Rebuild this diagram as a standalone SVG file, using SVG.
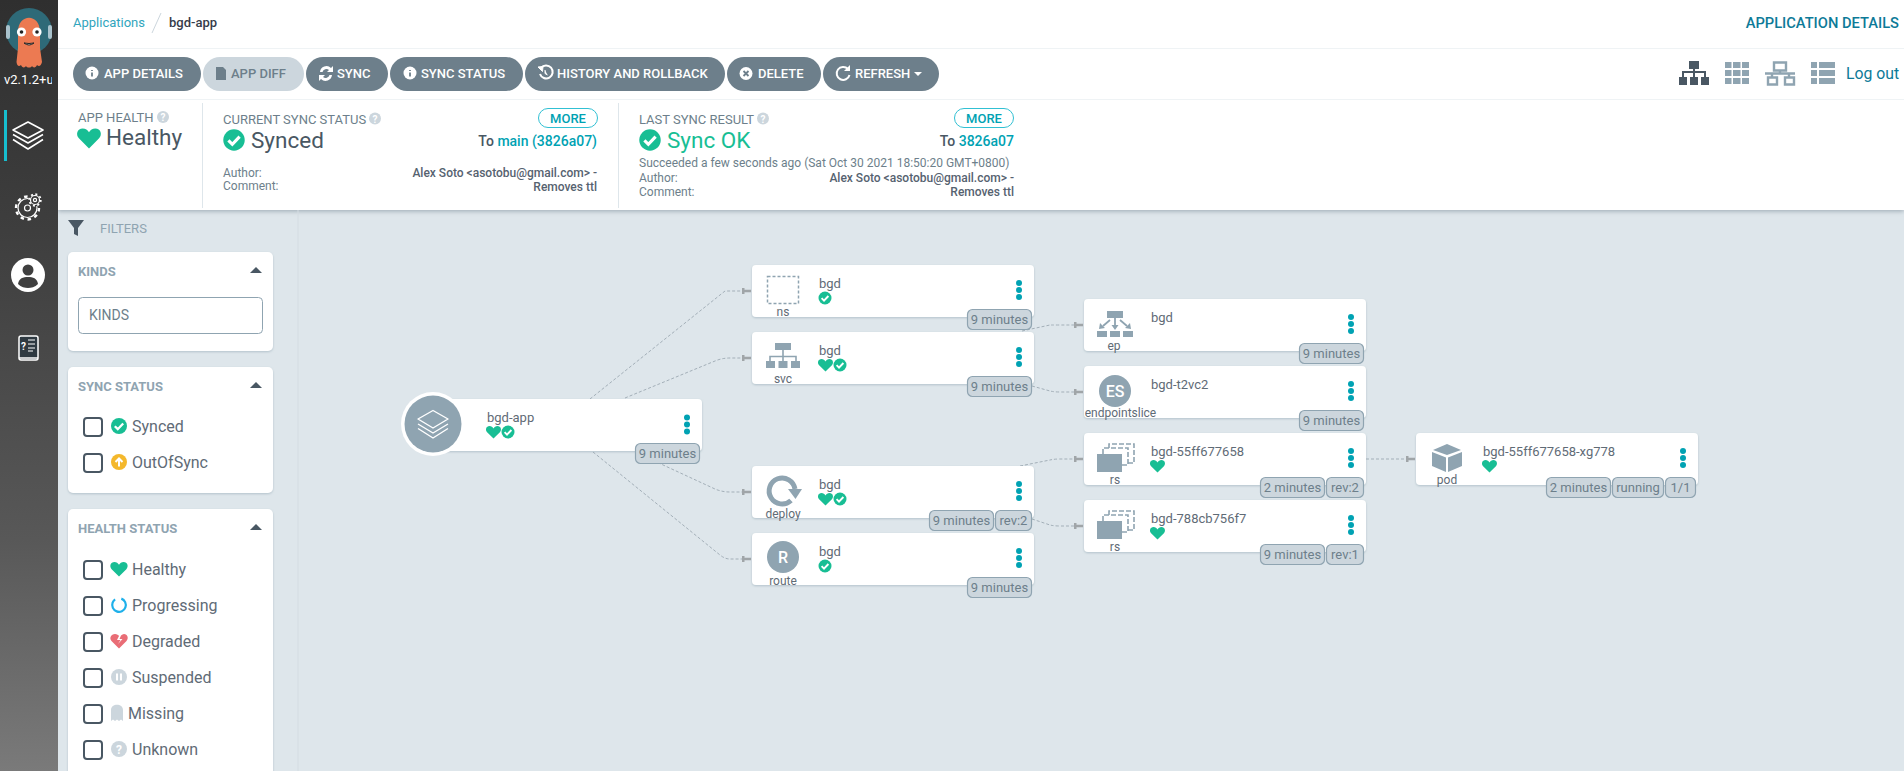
<svg xmlns="http://www.w3.org/2000/svg" xmlns:xlink="http://www.w3.org/1999/xlink" width="1904" height="771" viewBox="0 0 1904 771">
<style>
text{font-family:Roboto,"Liberation Sans",sans-serif;}
.btn{fill:#6d7f8b}.btnt{fill:#fff;font-size:13px;font-weight:500}
.card{fill:#fff;filter:url(#sh)}
.name{font-size:13px;fill:#5f6b76}
.kind{font-size:12px;fill:#5f6b76;text-anchor:middle}
.bd{fill:#ccd6dd;stroke:#8fa4b1;stroke-width:1.2}
.bt{font-size:13px;fill:#6d7f8b;text-anchor:middle}
.dot{fill:#00a2b3}
.ico{fill:#8fa4b1}
.edge{fill:none;stroke:#a3afb8;stroke-width:1;stroke-dasharray:3 2;marker-end:url(#tack)}
.lab{font-size:13px;fill:#6d7f8b}
.val{font-size:22.5px;fill:#495763}
.small{font-size:12px;fill:#6d7f8b}
.sv{font-size:12px;fill:#566270;font-weight:500;text-anchor:end}
.to{font-size:14px;font-weight:500;fill:#495763;text-anchor:end}
.link{fill:#00a2b3}
.more{fill:#fff;stroke:#31c0d3;stroke-width:1}
.moret{font-size:13px;font-weight:500;fill:#00a2b3;text-anchor:middle}
.panel{fill:#fff;filter:url(#sh)}
.pt{font-size:13px;font-weight:700;fill:#8fa4b1}
.cb{fill:#fff;stroke:#495763;stroke-width:2}
.fl{font-size:16px;fill:#5f6b76}
.nav{fill:none;stroke:#fff;stroke-width:1.6;stroke-linejoin:round}
</style>
<defs>
<linearGradient id="sb" x1="0" y1="0" x2="0" y2="1"><stop offset="0" stop-color="#2f2f2f"/><stop offset=".3" stop-color="#3e3e3e"/><stop offset=".7" stop-color="#585858"/><stop offset="1" stop-color="#7a7a7a"/></linearGradient>
<filter id="sh" x="-5%" y="-10%" width="110%" height="125%"><feDropShadow dx="0" dy="1" stdDeviation="0.8" flood-color="#8fa4b1" flood-opacity=".55"/></filter>
<filter id="hs" x="-5%" y="-5%" width="110%" height="115%"><feDropShadow dx="0" dy="1.5" stdDeviation="2" flood-color="#7a8a96" flood-opacity=".6"/></filter>
<marker id="tack" markerUnits="userSpaceOnUse" markerWidth="10" markerHeight="8" refX="9" refY="4" orient="auto"><path d="M0 1h2.500v1.800h6.500v2.400h-6.500v1.800h-2.500z" fill="#a0a5a8"/></marker>
<path id="heart" d="M0 6.600L-6.400 .2C-8.600-2.200-7.400-6-4-6-2.200-6-.8-5 0-3.600.8-5 2.200-6 4-6 7.400-6 8.600-2.200 6.400 .2Z" fill="#18be94"/>
<g id="check"><circle r="6.500" fill="#18be94"/><path d="M-3.400 .2L-1 2.600 3.400-2" fill="none" stroke="#fff" stroke-width="1.900"/></g>
<g id="dots"><circle class="dot" cy="-7" r="3"/><circle class="dot" r="3"/><circle class="dot" cy="7" r="3"/></g>
<g id="help"><circle r="6" fill="#ccd6dd"/><text y="4" font-size="10" font-weight="700" fill="#fff" text-anchor="middle">?</text></g>
<g id="rs"><rect x="-18" y="-16" width="25" height="18" fill="#8fa4b1"/><path d="M-12-16v-6h25v17h-6" fill="none" stroke="#8fa4b1" stroke-width="1.600" stroke-dasharray="5 2"/><path d="M-6-22v-4h25v19h-6" fill="none" stroke="#8fa4b1" stroke-width="1.600" stroke-dasharray="5 2"/></g>
<clipPath id="vc"><rect x="0" y="60" width="52" height="40"/></clipPath>
</defs>
<rect width="1904" height="771" fill="#dee6eb"/>
<g id="header">
<rect x="58" y="0" width="1846" height="210" fill="#fff" filter="url(#hs)"/>
<path d="M58 48.500H1904M58 99.500H1904" stroke="#eff3f5" stroke-width="1"/>
<path d="M152 33L161 13" stroke="#ccd6dd" stroke-width="1"/>
<text x="73" y="27" font-size="13" fill="#31a5bd">Applications</text>
<text x="169" y="27" font-size="13" font-weight="500" fill="#363c4a">bgd-app</text>
<text x="1899" y="28" font-size="14.700" font-weight="500" fill="#0d7a98" text-anchor="end">APPLICATION DETAILS</text>
<text x="1846" y="79" font-size="15.800" fill="#0d7a98">Log out</text>
<g id="view-icons">
<path d="M1689 61h10v8h-10zM1679 77h8v8h-8zM1690 77h8v8h-8zM1701 77h8v8h-8z" fill="#495763"/>
<path d="M1694 69v8M1683 77v-5h22v5" fill="none" stroke="#495763" stroke-width="2"/>
<path d="M1725 62h6.500v6h-6.500zM1733 62h7.500v6h-7.500zM1742 62h7v6h-7zM1725 70h6.500v6h-6.500zM1733 70h7.500v6h-7.500zM1742 70h7v6h-7zM1725 78h6.500v6h-6.500zM1733 78h7.500v6h-7.500zM1742 78h7v6h-7z" fill="#8fa4b1"/>
<path d="M1774 62.500h12v8h-12zM1780 70.500v3M1765 73.500h30M1772 73.500v4M1789 73.500v4M1768 77.500h9v7h-9zM1785 77.500h9v7h-9z" fill="none" stroke="#8fa4b1" stroke-width="2.400"/>
<path d="M1811 62h6v6h-6zM1819 62h16v6h-16zM1811 70h6v6h-6zM1819 70h16v6h-16zM1811 78h6v6h-6zM1819 78h16v6h-16z" fill="#8fa4b1"/>
</g>
<g id="toolbar">
<rect class="btn" x="73" y="57" width="128" height="34" rx="17"/>
<circle cx="92" cy="73" r="6.500" fill="#fff"/><path d="M92 70v1M92 72.500v4" stroke="#6d7f8b" stroke-width="1.800"/>
<text class="btnt" x="104" y="78">APP DETAILS</text>
<rect x="203" y="57" width="101" height="34" rx="17" fill="#ccd6dd"/>
<path d="M216 67h7l3 3v10h-10z" fill="#6d7f8b"/>
<text class="btnt" x="231" y="78" style="fill:#6d7f8b">APP DIFF</text>
<rect class="btn" x="306" y="57" width="82" height="34" rx="17"/>
<path d="M320 72a6.500 6.500 0 0 1 11-4l2-2v6h-6l2-2a4 4 0 0 0-6.500 2zM332 75a6.500 6.500 0 0 1-11 4l-2 2v-6h6l-2 2a4 4 0 0 0 6.500-2z" fill="#fff"/>
<text class="btnt" x="337" y="78">SYNC</text>
<rect class="btn" x="390" y="57" width="133" height="34" rx="17"/>
<circle cx="410" cy="73" r="6.500" fill="#fff"/><path d="M410 70v1M410 72.500v4" stroke="#6d7f8b" stroke-width="1.800"/>
<text class="btnt" x="421" y="78">SYNC STATUS</text>
<rect class="btn" x="525" y="57" width="200" height="34" rx="17"/>
<path d="M541 68a6.500 6.500 0 1 1-1 6" fill="none" stroke="#fff" stroke-width="2"/><path d="M538 67l5-.5-.5 5zM545 70v3.500l2.500 1.500" fill="#fff" stroke="#fff" stroke-width="1"/>
<text class="btnt" x="557" y="78">HISTORY AND ROLLBACK</text>
<rect class="btn" x="727" y="57" width="94" height="34" rx="17"/>
<circle cx="746" cy="73.500" r="6.500" fill="#fff"/><path d="M743.500 71l5 5M748.500 71l-5 5" stroke="#6d7f8b" stroke-width="1.800"/>
<text class="btnt" x="758" y="78">DELETE</text>
<rect class="btn" x="823" y="57" width="116" height="34" rx="17"/>
<path d="M848 69a6.500 6.500 0 1 0 1.500 6" fill="none" stroke="#fff" stroke-width="2"/><path d="M850 65v6h-6z" fill="#fff"/>
<text class="btnt" x="855" y="78">REFRESH</text>
<path d="M914 72h8l-4 4z" fill="#fff"/>
</g>
<g id="status">
<path d="M202.500 103V208M618.500 103V208" stroke="#dee6eb" stroke-width="1"/>
<text class="lab" x="78" y="122">APP HEALTH</text><use href="#help" x="163" y="117"/>
<use href="#heart" transform="translate(89 138) scale(1.580)"/>
<text class="val" x="106" y="145">Healthy</text>
<text class="lab" x="223" y="123.500">CURRENT SYNC STATUS</text><use href="#help" x="375" y="118.500"/>
<use href="#check" transform="translate(234 140) scale(1.650)"/>
<text class="val" x="251" y="148">Synced</text>
<rect class="more" x="538.500" y="108.500" width="59" height="19" rx="9.500"/><text class="moret" x="568" y="123">MORE</text>
<text class="to" x="597" y="145.500">To <tspan class="link">main (3826a07)</tspan></text>
<text class="small" x="223" y="177">Author:</text><text class="small" x="223" y="190">Comment:</text>
<text class="sv" x="597" y="177">Alex Soto &lt;asotobu@gmail.com&gt; -</text><text class="sv" x="597" y="191">Removes ttl</text>
<text class="lab" x="639" y="123.500">LAST SYNC RESULT</text><use href="#help" x="763" y="118.500"/>
<use href="#check" transform="translate(650 140) scale(1.650)"/>
<text class="val" x="667" y="148" style="fill:#18be94">Sync OK</text>
<rect class="more" x="954.500" y="108.500" width="59" height="19" rx="9.500"/><text class="moret" x="984" y="123">MORE</text>
<text class="to" x="1014" y="145.500">To <tspan class="link">3826a07</tspan></text>
<text class="small" x="639" y="167">Succeeded a few seconds ago (Sat Oct 30 2021 18:50:20 GMT+0800)</text>
<text class="small" x="639" y="182">Author:</text><text class="small" x="639" y="196">Comment:</text>
<text class="sv" x="1014" y="182">Alex Soto &lt;asotobu@gmail.com&gt; -</text><text class="sv" x="1014" y="196">Removes ttl</text>
</g>
</g>
<g id="sidebar">
<rect width="58" height="771" fill="url(#sb)"/>
<g id="logo">
<circle cx="29" cy="31" r="23" fill="#2e6a78"/>
<rect x="6" y="25" width="4" height="14" rx="2" fill="#a9c2cc"/><rect x="48" y="25" width="4" height="14" rx="2" fill="#a9c2cc"/>
<path d="M18 32C18 13 40 13 40 32V48L42 62C41 66 39 67 37 65C36 68 33 68 32 66C31 68 27 68 26 66C25 68 22 68 21 65C19 67 17 66 16.500 62L18 48Z" fill="#ec7a52"/>
<circle cx="21.500" cy="32" r="4.600" fill="#fff"/><circle cx="37" cy="32" r="4.600" fill="#fff"/><circle cx="21.500" cy="32" r="1.800" fill="#222"/><circle cx="37" cy="32" r="1.800" fill="#222"/>
<path d="M24 43q5 4 10 0q-5 1-10 0z" fill="#fff" stroke="#222" stroke-width="1"/>
</g>
<text x="4" y="84" font-size="13" fill="#fff" clip-path="url(#vc)">v2.1.2+u</text>
<rect x="4" y="110" width="3" height="51" fill="#17becf"/>
<g id="nav-apps"><path class="nav" d="M28 122L43 130 28 138 13 130Z"/><path class="nav" d="M13 134.500L28 143 43 134.500M13 139.500L28 149 43 139.500"/></g>
<g id="nav-settings" class="nav" style="stroke-width:1.200">
<circle cx="27.500" cy="208" r="9.500"/><circle cx="27.500" cy="208" r="3"/>
<circle cx="27.500" cy="208" r="11.500" stroke-dasharray="3.500 3.700" stroke-width="2.400"/>
<circle cx="35" cy="200" r="6.500" style="fill:#3c3c3c;stroke:none"/><circle cx="35" cy="200" r="4.500"/><circle cx="35" cy="200" r="1.600"/>
<circle cx="35" cy="200" r="5.800" stroke-dasharray="2 2.500" stroke-width="1.800"/>
</g>
<g id="nav-user"><circle cx="28" cy="275" r="17" fill="#fff"/><circle cx="28" cy="270" r="5.500" fill="#3f3f3f"/><path d="M18 284c1-6 5-7 10-7s9 1 10 7c-3 3-7 4-10 4s-7-1-10-4z" fill="#3f3f3f"/></g>
<g id="nav-docs"><rect x="19" y="336" width="19" height="24" rx="2" fill="#2f3a42" stroke="#fff" stroke-width="1.500"/><path d="M19 358h19" stroke="#fff" stroke-width="1.500"/><text x="21" y="350" font-size="10" font-weight="700" fill="#fff">?</text><path d="M28 340h7M28 344h7M28 348h7M28 351h5" stroke="#fff" stroke-width="1"/></g>
</g>
<g id="filters">
<path d="M298 210V771" stroke="#d4dce2" stroke-width="1"/>
<path d="M68 220h16l-6 8v8l-4-2v-6z" fill="#495763"/>
<text x="100" y="233" font-size="13" fill="#8fa4b1">FILTERS</text>
<g id="filter-kinds">
<rect class="panel" x="68" y="252" width="205" height="99" rx="5"/>
<text class="pt" x="78" y="276">KINDS</text><path d="M250 273h12l-6-6z" fill="#495763"/>
<rect x="78.500" y="297.500" width="184" height="36" rx="4" fill="#fff" stroke="#8fa4b1"/>
<text x="89" y="320" font-size="14" fill="#6d7f8b">KINDS</text>
</g>
<g id="filter-sync">
<rect class="panel" x="68" y="367" width="205" height="126" rx="5"/>
<text class="pt" x="78" y="391">SYNC STATUS</text><path d="M250 388h12l-6-6z" fill="#495763"/>
<rect class="cb" x="84" y="418" width="18" height="18" rx="3"/><use href="#check" transform="translate(119 426) scale(1.230)"/><text class="fl" x="132" y="432">Synced</text>
<rect class="cb" x="84" y="454" width="18" height="18" rx="3"/><circle cx="119" cy="462" r="8" fill="#f4b82c"/><path d="M119 466.500v-7M115.500 462l3.500-3.500 3.500 3.500" fill="none" stroke="#fff" stroke-width="2"/><text class="fl" x="132" y="468">OutOfSync</text>
</g>
<g id="filter-health">
<rect class="panel" x="68" y="509" width="205" height="270" rx="5"/>
<text class="pt" x="78" y="533">HEALTH STATUS</text><path d="M250 530h12l-6-6z" fill="#495763"/>
<rect class="cb" x="84" y="561" width="18" height="18" rx="3"/><use href="#heart" transform="translate(119 569) scale(1.150)"/><text class="fl" x="132" y="575">Healthy</text>
<rect class="cb" x="84" y="597" width="18" height="18" rx="3"/><circle cx="119" cy="605" r="6.800" fill="none" stroke="#1eb0ea" stroke-width="2.200" stroke-dasharray="36 7" transform="rotate(-70 119 605)"/><text class="fl" x="132" y="611">Progressing</text>
<rect class="cb" x="84" y="633" width="18" height="18" rx="3"/><path d="M119 648.500L111.500 641C109 638 111 634 115 634 117 634 118.500 635 119 636L117 640H120.500L118 644 122.500 639H119.500L121 635.500C122 634.500 123 634 124 634 127.500 634 129 638 126.500 641Z" fill="#e96d76"/><text class="fl" x="132" y="647">Degraded</text>
<rect class="cb" x="84" y="669" width="18" height="18" rx="3"/><circle cx="119" cy="677" r="8" fill="#ccd6dd"/><path d="M117 673.500v7M121 673.500v7" stroke="#fff" stroke-width="2"/><text class="fl" x="132" y="683">Suspended</text>
<rect class="cb" x="84" y="705" width="18" height="18" rx="3"/><path d="M111 721v-11c0-7 12-7 12 0v11l-2-1.500-2 1.500-2-1.500-2 1.500-2-1.500z" fill="#ccd6dd"/><text class="fl" x="128" y="719">Missing</text>
<rect class="cb" x="84" y="741" width="18" height="18" rx="3"/><circle cx="119" cy="749" r="8" fill="#ccd6dd"/><text x="119" y="753.500" font-size="12" font-weight="700" fill="#fff" text-anchor="middle">?</text><text class="fl" x="132" y="755">Unknown</text>
</g>
</g>
<g id="connectors">
<path class="edge" d="M590 399L725 291H751"/>
<path class="edge" d="M625 398L715 361Q722 358 730 358H751"/>
<path class="edge" d="M635 452L715 489Q722 492 730 492H751"/>
<path class="edge" d="M593 452L720 555Q725 559 730 559H751"/>
<path class="edge" d="M1022 331L1050 325Q1054 325 1060 325H1083"/>
<path class="edge" d="M1032 386L1050 391Q1054 392 1060 392H1083"/>
<path class="edge" d="M1020 466L1050 460Q1054 459 1060 459H1083"/>
<path class="edge" d="M1032 519L1050 525Q1054 526 1060 526H1083"/>
<path class="edge" d="M1366 459H1415"/>
</g>
<g id="node-app">
<rect class="card" x="420" y="399" width="282" height="52" rx="4"/>
<circle cx="433" cy="424" r="32" fill="#fff"/><circle cx="433" cy="424" r="28.500" fill="#8fa4b1"/>
<path d="M433 410.500L448 419 433 428 418 419Z" fill="none" stroke="#fff" stroke-width="1.400" stroke-linejoin="round"/><path d="M418 424L433 433 448 424M418 428.500L433 438 448 428.500" fill="none" stroke="#fff" stroke-width="1.400" stroke-linejoin="round"/>
<text class="name" x="487" y="422">bgd-app</text>
<use href="#heart" transform="translate(493.500 432)"/><use href="#check" x="508" y="432"/>
<use href="#dots" x="687" y="424.500"/>
<rect class="bd" x="635.500" y="443.500" width="64" height="20" rx="5"/><text class="bt" x="667.500" y="458">9 minutes</text>
</g>
<g id="node-ns">
<rect class="card" x="752" y="265" width="282" height="52" rx="4"/>
<rect x="767.500" y="276.500" width="31" height="27" fill="none" stroke="#8fa4b1" stroke-width="1.500" stroke-dasharray="3 2"/>
<text class="kind" x="783" y="316">ns</text><text class="name" x="819" y="288">bgd</text>
<use href="#check" x="825" y="298"/><use href="#dots" x="1019" y="290"/>
<rect class="bd" x="967.500" y="309.500" width="64" height="20" rx="5"/><text class="bt" x="999.500" y="324">9 minutes</text>
</g>
<g id="node-svc">
<rect class="card" x="752" y="332" width="282" height="52" rx="4"/>
<path d="M775 343h16v7h-16z" class="ico"/><path d="M783 350v6M770 361v-4.500h26v4.500M783 356v5" fill="none" stroke="#8fa4b1" stroke-width="1.600"/><path d="M766 361h9v7h-9zM778.500 361h9v7h-9zM791 361h9v7h-9z" class="ico"/>
<text class="kind" x="783" y="383">svc</text><text class="name" x="819" y="355">bgd</text>
<use href="#heart" transform="translate(825.500 365)"/><use href="#check" x="840" y="365"/><use href="#dots" x="1019" y="357"/>
<rect class="bd" x="967.500" y="376.500" width="64" height="20" rx="5"/><text class="bt" x="999.500" y="391">9 minutes</text>
</g>
<g id="node-deploy">
<rect class="card" x="752" y="466" width="282" height="52" rx="4"/>
<path d="M791 500.500A13 13 0 1 1 795 489" fill="none" stroke="#8fa4b1" stroke-width="5"/><path d="M788 489L802 489 795.500 499Z" class="ico"/>
<text class="kind" x="783" y="518">deploy</text><text class="name" x="819" y="489">bgd</text>
<use href="#heart" transform="translate(825.500 499)"/><use href="#check" x="840" y="499"/><use href="#dots" x="1019" y="491"/>
<rect class="bd" x="929.500" y="510.500" width="64" height="20" rx="5"/><text class="bt" x="961.500" y="525">9 minutes</text>
<rect class="bd" x="995.500" y="510.500" width="36" height="20" rx="5"/><text class="bt" x="1013.500" y="525">rev:2</text>
</g>
<g id="node-route">
<rect class="card" x="752" y="533" width="282" height="52" rx="4"/>
<circle cx="783" cy="557" r="16" class="ico"/><text x="783" y="563" font-size="16" font-weight="500" fill="#fff" text-anchor="middle">R</text>
<text class="kind" x="783" y="584.500">route</text><text class="name" x="819" y="556">bgd</text>
<use href="#check" x="825" y="566"/><use href="#dots" x="1019" y="558"/>
<rect class="bd" x="967.500" y="577.500" width="64" height="20" rx="5"/><text class="bt" x="999.500" y="592">9 minutes</text>
</g>
<g id="node-ep">
<rect class="card" x="1084" y="299" width="282" height="52" rx="4"/>
<path d="M1107 311h16v7h-16z" class="ico"/><path d="M1097 331h10v6h-10zM1110 331h10v6h-10zM1123 331h10v6h-10z" class="ico"/>
<path d="M1115 318v9M1110 320l-7 6M1120 320l7 6" stroke="#8fa4b1" stroke-width="1.800" fill="none"/><path d="M1111.500 325h7l-3.500 5zM1100 323l5 5-6 1zM1130 323l-5 5 6 1z" class="ico"/>
<text class="kind" x="1114" y="350">ep</text><text class="name" x="1151" y="322">bgd</text>
<use href="#dots" x="1351" y="324"/>
<rect class="bd" x="1299.500" y="343.500" width="64" height="20" rx="5"/><text class="bt" x="1331.500" y="358">9 minutes</text>
</g>
<g id="node-es">
<rect class="card" x="1084" y="366" width="282" height="52" rx="4"/>
<circle cx="1115" cy="391" r="16" class="ico"/><text x="1115" y="397" font-size="16" font-weight="500" fill="#fff" text-anchor="middle">ES</text>
<text class="kind" x="1120.500" y="417">endpointslice</text><text class="name" x="1151" y="389">bgd-t2vc2</text>
<use href="#dots" x="1351" y="391"/>
<rect class="bd" x="1299.500" y="410.500" width="64" height="20" rx="5"/><text class="bt" x="1331.500" y="425">9 minutes</text>
</g>
<g id="node-rs1">
<rect class="card" x="1084" y="433" width="282" height="52" rx="4"/>
<use href="#rs" x="1115" y="470"/>
<text class="kind" x="1115" y="484">rs</text><text class="name" x="1151" y="456">bgd-55ff677658</text>
<use href="#heart" transform="translate(1157.500 466)"/><use href="#dots" x="1351" y="458"/>
<rect class="bd" x="1260.500" y="477.500" width="64" height="20" rx="5"/><text class="bt" x="1292.500" y="492">2 minutes</text>
<rect class="bd" x="1326.500" y="477.500" width="37" height="20" rx="5"/><text class="bt" x="1345" y="492">rev:2</text>
</g>
<g id="node-rs2">
<rect class="card" x="1084" y="500" width="282" height="52" rx="4"/>
<use href="#rs" x="1115" y="537"/>
<text class="kind" x="1115" y="551">rs</text><text class="name" x="1151" y="523">bgd-788cb756f7</text>
<use href="#heart" transform="translate(1157.500 533)"/><use href="#dots" x="1351" y="525"/>
<rect class="bd" x="1260.500" y="544.500" width="64" height="20" rx="5"/><text class="bt" x="1292.500" y="559">9 minutes</text>
<rect class="bd" x="1326.500" y="544.500" width="37" height="20" rx="5"/><text class="bt" x="1345" y="559">rev:1</text>
</g>
<g id="node-pod">
<rect class="card" x="1416" y="433" width="282" height="52" rx="4"/>
<path d="M1447 444L1461 450 1447 455 1433 450Z" class="ico"/><path d="M1432 452L1446 457.500V472L1432 466ZM1462 452L1448 457.500V472L1462 466Z" class="ico"/>
<text class="kind" x="1447" y="484">pod</text><text class="name" x="1483" y="456">bgd-55ff677658-xg778</text>
<use href="#heart" transform="translate(1489.500 466)"/><use href="#dots" x="1683" y="458"/>
<rect class="bd" x="1546.500" y="477.500" width="64" height="20" rx="5"/><text class="bt" x="1578.500" y="492">2 minutes</text>
<rect class="bd" x="1612.500" y="477.500" width="51" height="20" rx="5"/><text class="bt" x="1638" y="492">running</text>
<rect class="bd" x="1665.500" y="477.500" width="30" height="20" rx="5"/><text class="bt" x="1680.500" y="492">1/1</text>
</g>
</svg>
